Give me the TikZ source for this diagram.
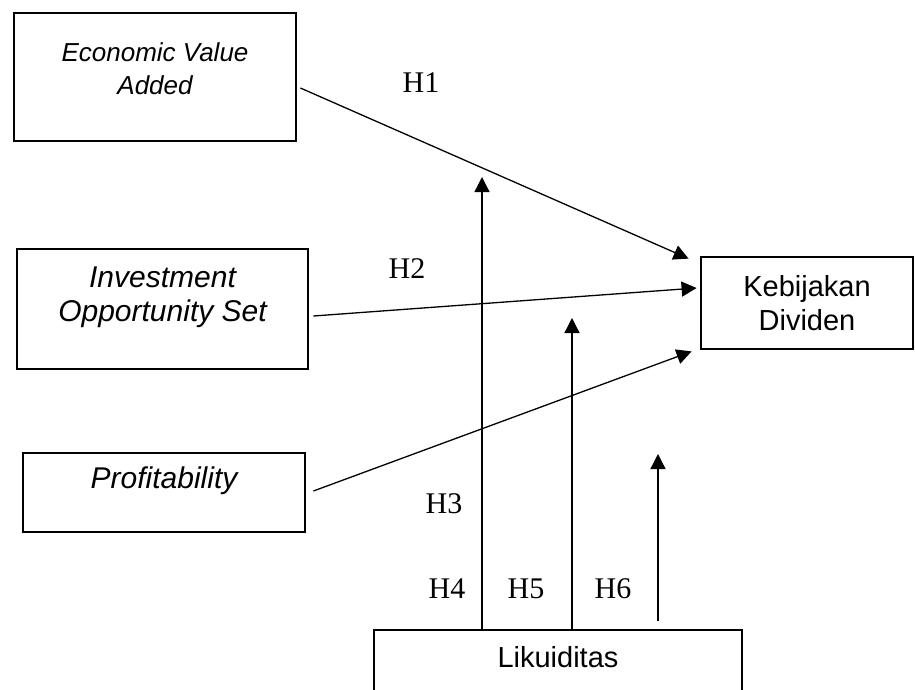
\documentclass[tikz,border=0pt]{standalone}
\usepackage{fontspec}
\setmainfont{Liberation Serif}
\setsansfont{Liberation Sans}
\usetikzlibrary{arrows.meta,positioning}

\tikzset{
    box/.style={draw, line width=2.8pt, inner sep=0pt},
    varit/.style={font=\sffamily\itshape\fontsize{26}{33}\selectfont, align=center, anchor=north, inner sep=0pt},
    varup/.style={font=\sffamily\fontsize{29}{34}\selectfont, align=center, anchor=north, inner sep=0pt},
    arr/.style={line width=1.3pt, -{Triangle[length=15pt,width=15pt]}},
    hyp/.style={font=\fontsize{30}{34}\selectfont, inner sep=0pt, anchor=base},
}

\begin{document}
\begin{tikzpicture}[x=1pt, y=-1pt]
    \useasboundingbox (0,0) rectangle (915,690);

    % Independent variables
    \node[box, minimum width=282pt, minimum height=128pt] (eva) at (155,77) {};
    \node[box, minimum width=291pt, minimum height=120pt] (ios) at (162.5,309) {};
    \node[box, minimum width=282pt, minimum height=79pt] (prof) at (164,492.5) {};
    \node[varit, below=31pt of eva.north] (evatext) {Economic Value\\Added};
    \node[varit, font=\sffamily\itshape\fontsize{30}{34}\selectfont, below=19pt of ios.north] (iostext) {Investment\\Opportunity Set};
    \node[varit, font=\sffamily\itshape\fontsize{30}{34}\selectfont, below=15pt of prof.north] (proftext) {Profitability};

    % Dependent and moderating variable
    \node[box, minimum width=212pt, minimum height=92pt] (keb) at (807,303) {};
    \node[varup, below=20pt of keb.north] (kebtext) {Kebijakan\\Dividen};
    \node[box, minimum width=368pt, minimum height=70pt] (liq) at (558,665) {};
    \node[varup, below=18pt of liq.north] (liqtext) {Likuiditas};

    % Arrow ends
    \coordinate (k1) at ([shift={(-11,3)}]keb.north west);
    \coordinate (k2) at ([shift={(-3,-15)}]keb.west);
    \coordinate (k3) at ([shift={(-8,1)}]keb.south west);
    \coordinate (m4) at (482,177);
    \coordinate (m5) at (572,318);
    \coordinate (m6) at (658,454);

    % Direct effects
    \draw[arr] ([shift={(3,11)}]eva.east) -- (k1);
    \draw[arr] ([shift={(4,7)}]ios.east) -- (k2);
    \draw[arr] ([shift={(7,-1.5)}]prof.east) -- (k3);

    % Moderation
    \draw[arr] (m4 |- liq.north) -- (m4);
    \draw[arr] (m5 |- liq.north) -- (m5);
    \draw[arr] ([yshift=8pt]m6 |- liq.north) -- (m6);

    % Hypotheses
    \node[hyp] (h1) at (421,93) {H1};
    \node[hyp] (h2) at (407,278) {H2};
    \node[hyp] (h3) at (444,513) {H3};
    \node[hyp] (h4) at (447,598) {H4};
    \node[hyp] (h5) at (526,598) {H5};
    \node[hyp] (h6) at (613,598) {H6};
\end{tikzpicture}
\end{document}
